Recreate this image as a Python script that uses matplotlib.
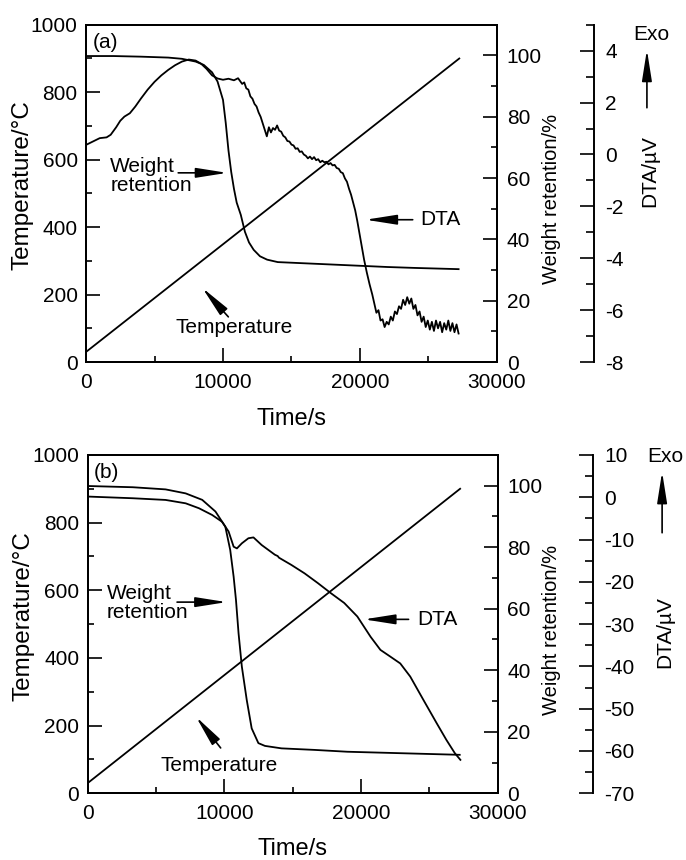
import matplotlib.pyplot as plt
from matplotlib.ticker import MultipleLocator

plt.rcParams['font.family'] = ['Liberation Sans', 'DejaVu Sans']
plt.rcParams['axes.unicode_minus'] = False

# ---------------- data, panel (a) ----------------
temp_t = [0, 27250]
temp_v = [30, 900]

wt_a_t = [0, 2000, 4000, 6000, 7000, 8000, 8600, 9200, 9600, 10000, 10200, 10400,
          10600, 10800, 11000, 11300, 11600, 11900, 12240, 12700, 13220, 14000,
          16000, 18000, 20000, 22000, 24000, 27200]
wt_a_v = [99.8, 99.8, 99.6, 99.3, 98.9, 98.0, 96.9, 94.5, 91.5, 85.5, 78.0, 69.0,
          62.0, 56.5, 52.0, 48.0, 42.5, 39.0, 36.6, 34.5, 33.4, 32.6,
          32.2, 31.8, 31.4, 31.0, 30.7, 30.3]

dta_a_t = [0, 500, 1000, 1500, 1800, 2200, 2500, 2800, 3200, 3600, 4000, 4500,
           5000, 5500, 6000, 6500, 7000, 7500, 8000, 8400, 8800, 9200, 9600,
           10000, 10400, 10800, 11100,
           11400, 11550, 11700, 11850, 12000, 12150, 12300, 12450, 12600, 12750,
           12900, 13050, 13200, 13350, 13500, 13650, 13800, 13950, 14100, 14250,
           14400, 14550, 14700, 14850, 15000, 15150, 15300, 15450, 15600, 15750,
           15900, 16050, 16200, 16350, 16500, 16650, 16800, 16950, 17100, 17250,
           17400, 17550, 17700, 17850, 18000, 18150, 18300, 18450, 18600, 18750,
           18900, 19050, 19200, 19350, 19500, 19650, 19800, 19950, 20100, 20300,
           20500, 20700, 20900,
           21050, 21200, 21350, 21500, 21650, 21800, 21950, 22100, 22250, 22400,
           22550, 22700, 22850, 23000, 23150, 23300, 23450, 23600, 23750, 23900,
           24050, 24200, 24350, 24500, 24650, 24800, 24950, 25100, 25250, 25400,
           25550, 25700, 25850, 26000, 26150, 26300, 26450, 26600, 26750, 26900,
           27050, 27200]
dta_a_v = [0.37, 0.50, 0.63, 0.66, 0.76, 1.05, 1.30, 1.46, 1.59, 1.85, 2.15, 2.50,
           2.80, 3.05, 3.26, 3.44, 3.58, 3.66, 3.62, 3.50, 3.30, 3.05, 2.93,
           2.88, 2.92, 2.86, 2.94,
           2.72, 2.78, 2.55, 2.50, 2.24, 2.15, 1.95, 1.85, 1.62, 1.45,
           1.20, 0.95, 0.70, 1.05, 0.85, 1.02, 0.95, 1.12, 0.92, 0.88,
           0.72, 0.66, 0.52, 0.50, 0.38, 0.35, 0.22, 0.24, 0.10, 0.12,
           0.00, -0.05, -0.15, -0.08, -0.18, -0.10, -0.22, -0.18, -0.30, -0.24,
           -0.30, -0.28, -0.38, -0.33, -0.42, -0.40, -0.52, -0.55, -0.68, -0.72,
           -0.92, -1.05, -1.32, -1.55, -1.85, -2.15, -2.55, -3.00, -3.45, -4.05,
           -4.55, -5.00, -5.40,
           -5.75, -6.10, -6.00, -6.40, -6.35, -6.65, -6.45, -6.55, -6.25, -6.40,
           -6.05, -6.15, -5.85, -5.95, -5.60, -5.80, -5.50, -5.75, -5.55, -5.95,
           -5.80, -6.20, -6.05, -6.45, -6.25, -6.65, -6.40, -6.75, -6.45, -6.80,
           -6.40, -6.70, -6.45, -6.85, -6.50, -6.75, -6.40, -6.80, -6.50, -6.85,
           -6.55, -6.90]

# ---------------- data, panel (b) ----------------
wt_b_t = [0, 3300, 5700, 7170, 8380, 9350, 10070, 10430, 10680, 10850, 11040,
          11280, 11640, 12000, 12490, 12970, 14180, 16590, 19000, 23110, 27220]
wt_b_v = [99.9, 99.5, 98.8, 97.5, 95.4, 91.6, 86.7, 79.1, 70.4, 62.9, 52.0,
          41.2, 30.3, 21.1, 16.3, 15.4, 14.6, 14.1, 13.5, 13.0, 12.5]

dta_b_t = [0, 3300, 5700, 7170, 8140, 9110, 9830, 10310, 10680, 10920, 11280,
           11760, 12130, 12730, 13700, 13900, 14000, 14900, 15870, 16840, 17800,
           18770, 19730, 20700, 21420, 22150, 22870, 23600, 24560, 25530, 26250,
           26860, 27270]
dta_b_v = [0.16, -0.24, -0.64, -1.44, -2.6, -4.2, -5.8, -8.1, -11.7, -12.1, -10.9,
           -9.7, -9.5, -11.3, -13.6, -13.9, -14.3, -16.0, -18.0, -20.3, -22.7,
           -25.0, -28.2, -33.0, -36.1, -37.7, -39.3, -42.4, -47.9, -53.4, -57.4,
           -60.5, -62.1]

LW = 1.3
FS = 15
ARROW = dict(arrowstyle='-|>,head_length=1.9,head_width=0.3', mutation_scale=10,
             color='black', lw=1.2, shrinkA=0, shrinkB=0)


def style(a, length=10, minor=4.5):
    a.tick_params(which='major', direction='in', length=length, width=1.2,
                  labelsize=FS, pad=6)
    a.tick_params(which='minor', direction='in', length=minor, width=1.2)
    for s in a.spines.values():
        s.set_linewidth(1.4)


def panel(rect, wt_t, wt_v, dta_t, dta_v, dlim, dmaj, dmin, dpos, tag, ann, lab):
    ax = fig.add_axes(rect)
    ax.plot(temp_t, temp_v, color='k', lw=LW)
    ax.set_xlim(0, 30000)
    ax.set_ylim(0, 1000)
    ax.xaxis.set_major_locator(MultipleLocator(10000))
    ax.xaxis.set_minor_locator(MultipleLocator(5000))
    ax.yaxis.set_major_locator(MultipleLocator(200))
    ax.yaxis.set_minor_locator(MultipleLocator(100))
    style(ax)
    ax.tick_params(which='both', top=False, right=False)
    ax.tick_params(axis='x', pad=8)
    ax.set_xlabel('Time/s', fontsize=17)
    ax.xaxis.set_label_coords(0.5, lab[0])
    ax.set_ylabel('Temperature/\u00b0C', fontsize=17.5)
    ax.yaxis.set_label_coords(-0.129, 0.524)

    axw = ax.twinx()
    axw.plot(wt_t, wt_v, color='k', lw=LW)
    axw.set_ylim(0, 110)
    axw.yaxis.set_major_locator(MultipleLocator(20))
    axw.yaxis.set_minor_locator(MultipleLocator(10))
    style(axw)
    axw.tick_params(axis='y', pad=7)
    axw.set_ylabel('Weight retention/%', fontsize=14.5)
    axw.yaxis.set_label_coords(1.109, 0.483)

    axd = ax.twinx()
    axd.spines['right'].set_position(('axes', dpos))
    for s in ['left', 'top', 'bottom']:
        axd.spines[s].set_visible(False)
    axd.plot(dta_t, dta_v, color='k', lw=LW)
    axd.set_ylim(*dlim)
    axd.yaxis.set_major_locator(MultipleLocator(dmaj))
    axd.yaxis.set_minor_locator(MultipleLocator(dmin))
    style(axd, minor=6)
    axd.tick_params(axis='y', pad=8)
    axd.set_ylabel('DTA/\u00b5V', fontsize=15)
    axd.yaxis.set_label_coords(lab[1], lab[2])

    ax.text(tag[1], tag[2], tag[0], fontsize=FS, ha='center', va='center')

    # annotations (host data coords)
    ax.text(ann['wt_txt'][0], ann['wt_txt'][1], 'Weight\nretention', fontsize=FS,
            ha='left', va='center', linespacing=1.0)
    ax.annotate('', xy=ann['wt_arr'][1], xytext=ann['wt_arr'][0], arrowprops=ARROW)
    ax.text(ann['t_txt'][0], ann['t_txt'][1], 'Temperature', fontsize=FS,
            ha='center', va='center')
    ax.annotate('', xy=ann['t_arr'][1], xytext=ann['t_arr'][0], arrowprops=ARROW)
    ax.text(ann['d_txt'][0], ann['d_txt'][1], 'DTA', fontsize=FS,
            ha='left', va='center')
    ax.annotate('', xy=ann['d_arr'][1], xytext=ann['d_arr'][0], arrowprops=ARROW)

    # Exo marker
    ax.text(ann['exo'][0], ann['exo'][1], 'Exo', fontsize=FS, ha='center',
            va='center', transform=ax.transAxes)
    ax.annotate('', xy=ann['exo_arr'][1], xytext=ann['exo_arr'][0],
                xycoords='axes fraction', textcoords='axes fraction',
                arrowprops=ARROW, annotation_clip=False)
    return ax


fig = plt.figure(figsize=(6.86, 8.6), dpi=100)

ann_a = {'wt_txt': (1760, 552), 'wt_arr': ((6730, 561), (10310, 561)),
         't_txt': (10830, 101), 't_arr': ((10390, 134), (8490, 220)),
         'd_txt': (24430, 422), 'd_arr': ((23850, 422), (20410, 422)),
         'exo': (1.375, 0.970), 'exo_arr': ((1.365, 0.754), (1.365, 0.926))}
panel([0.1254, 0.579, 0.599, 0.3922], wt_a_t, wt_a_v, dta_a_t, dta_a_v,
      (-8, 5), 2, 1, 1.236, ('(a)', 1390, 947), ann_a, (-0.1355, 1.348, 0.567))

ann_b = {'wt_txt': (1400, 561), 'wt_arr': ((6540, 565), (10170, 565)),
         't_txt': (9590, 82), 't_arr': ((9730, 134), (7930, 226)),
         'd_txt': (24090, 514), 'd_arr': ((23480, 514), (20220, 514)),
         'exo': (1.408, 0.994), 'exo_arr': ((1.401, 0.770), (1.401, 0.950))}
panel([0.1278, 0.0776, 0.5977, 0.3934], wt_b_t, wt_b_v, dta_b_t, dta_b_v,
      (-70, 10), 10, 5, 1.233, ('(b)', 1360, 948), ann_b, (-0.132, 1.384, 0.476))

fig.savefig('out.png', dpi=100)
